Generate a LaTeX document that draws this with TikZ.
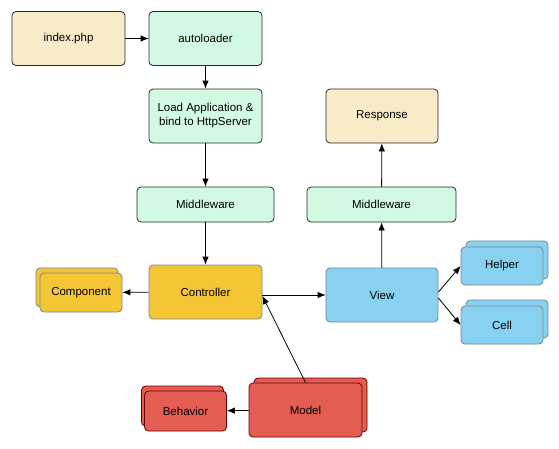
\documentclass[tikz,border=0pt]{standalone}
\usepackage{fontspec}
\setmainfont{Liberation Sans}
\usetikzlibrary{shadows,arrows.meta}

\definecolor{sand}{HTML}{F8ECC8}
\definecolor{mint}{HTML}{D2FAE3}
\definecolor{gold}{HTML}{F4C534}
\definecolor{sky}{HTML}{88D1F1}
\definecolor{brick}{HTML}{E35D52}

\tikzstyle{box}=[draw,rectangle,rounded corners=4pt,inner sep=0pt,line width=0.8pt,align=center,font=\fontsize{11.5}{14}\selectfont]
\tikzstyle{big}=[minimum width=113pt,minimum height=54pt]
\tikzstyle{small}=[minimum width=82pt,minimum height=39pt]
\tikzstyle{request}=[box,fill=sand,draw=black!85]
\tikzstyle{layer}=[box,fill=mint,draw=black!85]
\tikzstyle{ctrlbox}=[box,fill=gold,draw=black!45!cyan!40!gray]
\tikzstyle{viewbox}=[box,fill=sky,draw=black!45!cyan!40!gray]
\tikzstyle{modelbox}=[box,fill=brick,draw=red!40!black]

\begin{document}
\begin{tikzpicture}[x=1pt,y=-1pt]
			\useasboundingbox (0,0) rectangle (559,448);
			\begin{scope}[>={Latex[length=8pt,width=6.5pt]}]
				% request side
				\node (I)[request,big] at (68.5,38.5) {index.php};
				\node (A)[layer,big] at (205.5,38.5) {autoloader};
				\node (L)[layer,big] at (205.5,116) {Load Application \&\\bind to HttpServer};
				\node (MW1)[layer,minimum width=137pt,minimum height=35pt] at (205.5,204.5) {Middleware};
				\node (C)[ctrlbox,big] at (205.5,292) {Controller};
				\node (CO)[ctrlbox,small,copy shadow={shadow xshift=-4pt,shadow yshift=5pt}] at (81,292.5) {Component};
				% model
				\node (M)[modelbox,big,copy shadow={shadow xshift=5pt,shadow yshift=5pt}] at (305.5,410) {Model};
				\node (B)[modelbox,small,minimum height=40pt,copy shadow={shadow xshift=-3pt,shadow yshift=5pt}] at (185.5,411) {Behavior};
				% response side
				\node (V)[viewbox,big,minimum width=112pt] at (382,295) {View};
				\node (H)[viewbox,small,minimum height=38pt,copy shadow={shadow xshift=5pt,shadow yshift=6pt}] at (502,266) {Helper};
				\node (CE)[viewbox,small,minimum height=38pt,copy shadow={shadow xshift=5pt,shadow yshift=6pt}] at (502,325) {Cell};
				\node (MW2)[layer,minimum width=149pt,minimum height=35pt] at (381.5,204.5) {Middleware};
				\node (R)[request,big,minimum width=112pt] at (382,116) {Response};

				\draw[->,thick] (I) -- (A);
				\draw[->,thick] (A) -- (L);
				\draw[->,thick] (L) -- (MW1);
				\draw[->,thick] (MW1) -- (C);
				\draw[->,thick] (C) -- (CO);
				\draw[->,thick] (C.east |- V.west) -- (V.west);
				\draw[->,thick] (M.north) -- ([yshift=-4pt]C.east);
				\draw[->,thick] (M) -- (B);
				\draw[->,thick] (V) -- (MW2);
				\draw[->,thick] (MW2) -- (R);
				\draw[->,thick] ([yshift=3pt]V.east) -- (H.west);
				\draw[->,thick] ([yshift=-3pt]V.east) -- (CE.west);
			\end{scope}
		\end{tikzpicture}
\end{document}
